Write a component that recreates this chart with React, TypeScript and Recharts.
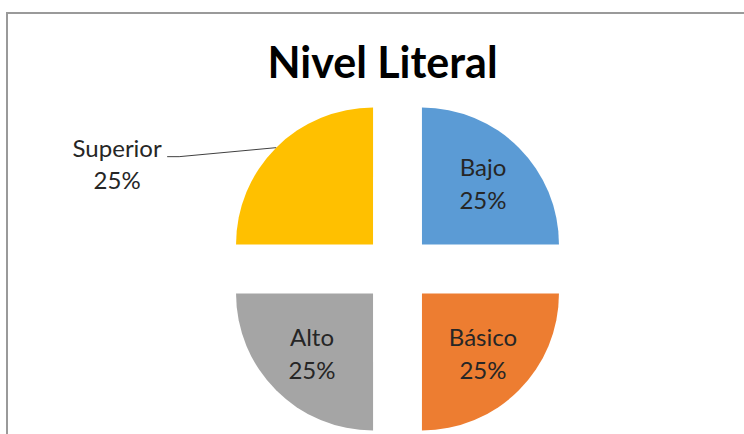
import React from 'react';
import { PieChart, Pie, Cell, Sector } from 'recharts';

// Nivel Literal: four equal shares, exploded pie (Excel style)
const levels = ['Bajo', 'Básico', 'Alto', 'Superior'];
const shares = [25, 25, 25, 25];
const sliceColors = ['#5B9BD5', '#ED7D31', '#A5A5A5', '#FFC000'];
const outsideLabels = ['Superior'];

const data = levels.map((name, i) => ({ name, value: shares[i] }));

const RADIAN = Math.PI / 180;
const EXPLODE = 34.6;
const FONT = 'Lato, "Noto Sans", sans-serif';

const shift = (x: number, y: number, angle: number, d: number) => ({
  x: x + d * Math.cos(-angle * RADIAN),
  y: y + d * Math.sin(-angle * RADIAN),
});

function ExplodedSector(props: any) {
  const { cx, cy, midAngle, innerRadius, outerRadius, startAngle, endAngle, fill } = props;
  const c = shift(cx, cy, midAngle, EXPLODE);
  return (
    <Sector
      cx={c.x}
      cy={c.y}
      innerRadius={innerRadius}
      outerRadius={outerRadius}
      startAngle={startAngle}
      endAngle={endAngle}
      fill={fill}
      stroke="none"
    />
  );
}

function SliceLabel(props: any) {
  const { cx, cy, midAngle, outerRadius, name, percent } = props;
  const c = shift(cx, cy, midAngle, EXPLODE);
  const pct = `${Math.round(percent * 100)}%`;
  const textStyle = { fontFamily: FONT, fontSize: 24, fill: '#262626' };

  if (outsideLabels.includes(name)) {
    const p = shift(c.x, c.y, midAngle, outerRadius);
    const bend = { x: p.x - 97, y: p.y + 9 };
    const end = { x: bend.x - 12, y: bend.y };
    const tx = end.x - 50;
    return (
      <g>
        <polyline
          points={`${p.x},${p.y} ${bend.x},${bend.y} ${end.x},${end.y}`}
          fill="none"
          stroke="#404040"
          strokeWidth={1}
        />
        <text x={tx} y={end.y} textAnchor="middle" style={textStyle}>
          <tspan x={tx} y={end.y}>{name}</tspan>
          <tspan x={tx} y={end.y + 32}>{pct}</tspan>
        </text>
      </g>
    );
  }

  const l = shift(c.x, c.y, midAngle, outerRadius * 0.63);
  return (
    <text x={l.x} y={l.y} textAnchor="middle" style={textStyle}>
      <tspan x={l.x} y={l.y - 8}>{name}</tspan>
      <tspan x={l.x} y={l.y + 25}>{pct}</tspan>
    </text>
  );
}

export default function App() {
  return (
    <div
      style={{
        position: 'relative',
        width: 744,
        height: 434,
        overflow: 'hidden',
        background: '#fff',
      }}
    >
      <style>{'body { margin: 0; overflow: hidden; }'}</style>
      <div
        style={{
          position: 'absolute',
          left: 6,
          top: 12,
          width: 760,
          height: 440,
          borderTop: '2px solid #9a9a9a',
          borderLeft: '2px solid #9a9a9a',
        }}
      />
      <div
        style={{
          position: 'absolute',
          left: 0,
          width: 765,
          top: 36,
          textAlign: 'center',
          fontFamily: FONT,
          fontWeight: 700,
          fontSize: 43,
          lineHeight: 1.2,
          color: '#000',
        }}
      >
        Nivel Literal
      </div>
      <div style={{ position: 'absolute', left: 0, top: 0 }}>
        <PieChart width={744} height={434} margin={{ top: 0, right: 0, bottom: 0, left: 0 }}>
          <Pie
            data={data}
            dataKey="value"
            nameKey="name"
            cx={397.5}
            cy={269}
            outerRadius={137}
            startAngle={90}
            endAngle={-270}
            stroke="none"
            shape={ExplodedSector}
            label={SliceLabel}
            labelLine={false}
            isAnimationActive={false}
          >
            {data.map((d, i) => (
              <Cell key={d.name} fill={sliceColors[i]} />
            ))}
          </Pie>
        </PieChart>
      </div>
    </div>
  );
}
